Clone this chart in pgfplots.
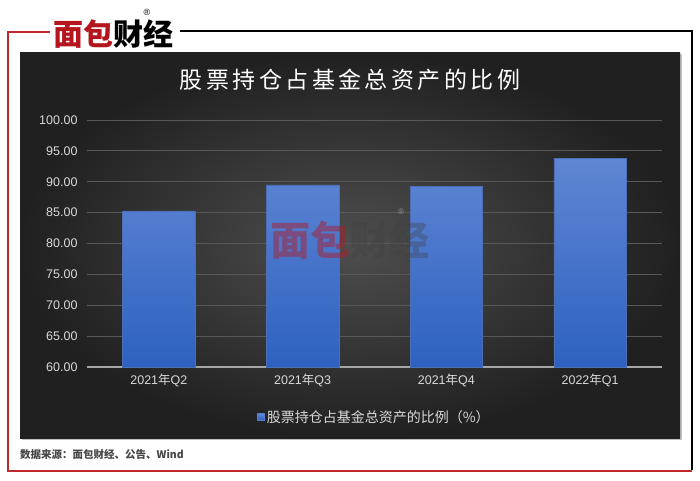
\documentclass[border=0pt]{standalone}
\usepackage{fontspec}
\setmainfont{Liberation Sans}
\newfontfamily\cjk{Noto Sans CJK SC}
\usepackage{pgfplots}
\pgfplotsset{compat=1.18}
\definecolor{framered}{HTML}{C0282D}
\definecolor{logored}{HTML}{B5161E}
\definecolor{bartop}{HTML}{5F86D4}
\definecolor{barbot}{HTML}{2E61C0}
\definecolor{barline}{HTML}{4A6FB5}
\definecolor{gridc}{HTML}{585858}
\definecolor{labc}{HTML}{D9D9D9}
\definecolor{panelin}{HTML}{4E4E4E}
\definecolor{panelout}{HTML}{202020}
\begin{document}
\begin{tikzpicture}[x=1pt,y=1pt]
\fill[white] (0,0) rectangle (700,480);
% frame
\draw[framered, line width=2pt] (50,448) -- (8,448) -- (8,9) -- (692,9);
\draw[black, line width=1.5pt] (180,449) -- (692,449) -- (692,10);
% panel shadow and panel
\fill[black!25] (21.5,40.5) rectangle (681.5,425.5);
\shade[inner color=panelin, outer color=panelout] (20,42) rectangle (680,427);
% logo
\node[font=\cjk\bfseries\fontsize{30}{32}\selectfont, inner sep=0pt] at (113,446)
  {\textcolor{logored}{面包}\textcolor{black}{财经}};
\node[font=\fontsize{9}{10}\selectfont, inner sep=0pt] at (147,468) {®};
% title
\node[font=\cjk\fontsize{23}{26}\selectfont\addfontfeature{LetterSpace=15}, text=white] at (350,400) {股票持仓占基金总资产的比例};
% source
\node[anchor=west, font=\cjk\bfseries\fontsize{10.5}{12}\selectfont, text=black!72, inner sep=0pt] at (20,26) {数据来源：面包财经、公告、Wind};
\begin{axis}[
  at={(87pt,113pt)}, anchor=south west,
  scale only axis, width=575pt, height=247pt,
  ymin=60, ymax=100, ytick={60,65,...,100},
  xmin=-0.5, xmax=3.5, xtick=data,
  xticklabels={2021{\cjk 年}Q2, 2021{\cjk 年}Q3, 2021{\cjk 年}Q4, 2022{\cjk 年}Q1},
  ymajorgrids, major grid style={draw=gridc, line width=0.9pt},
  axis lines*=left,
  y axis line style={draw=none},
  x axis line style={draw=black!35, line width=1.2pt, -},
  major tick length=0pt,
  tick label style={text=labc, font=\fontsize{12.5}{14}\selectfont},
  /pgf/number format/assume math mode=true,
  xticklabel style={yshift=-3pt},
  yticklabel style={xshift=-6pt, /pgf/number format/.cd, fixed, fixed zerofill, precision=2},
  legend style={at={(0.5,-0.202)}, anchor=center, draw=none, fill=none, text=labc,
    font=\cjk\fontsize{14}{16}\selectfont},
  legend image code/.code={\fill[bartop!80!barbot] (0pt,-3.5pt) rectangle (7pt,3.5pt);},
]
\addplot[ybar, bar width=72.6pt, draw=barline, line width=0.4pt, top color=bartop, bottom color=barbot]
  coordinates {(0,85.3) (1,89.5) (2,89.3) (3,93.8)};
\addlegendentry{股票持仓占基金总资产的比例（\%）}
\end{axis}
% watermark
\node[anchor=east, font=\cjk\bfseries\fontsize{40}{42}\selectfont, inner sep=0pt, text=logored, text opacity=0.45] at (351,240) {面包};
\node[anchor=west, font=\cjk\bfseries\fontsize{40}{42}\selectfont, inner sep=0pt, text=black!75, text opacity=0.35] at (349,240) {财经};
\node[font=\fontsize{8}{9}\selectfont, text=labc, text opacity=0.5, inner sep=0pt] at (401,268) {®};
\end{tikzpicture}
\end{document}
